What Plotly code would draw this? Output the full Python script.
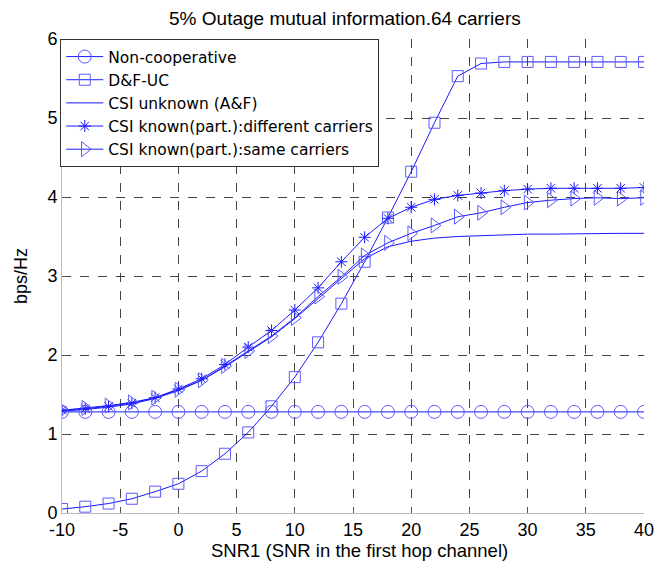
import plotly.graph_objects as go

snr = [-10, -8, -6, -4, -2, 0, 2, 4, 6, 8, 10, 12, 14, 16, 18, 20, 22, 24, 26, 28, 30, 32, 34, 36, 38, 40]

non_coop = [1.28] * 26
df_uc = [0.05, 0.08, 0.12, 0.18, 0.27, 0.37, 0.53, 0.75, 1.02, 1.35, 1.72, 2.16, 2.65, 3.18, 3.74, 4.32,
         4.94, 5.53, 5.69, 5.71, 5.71, 5.71, 5.71, 5.71, 5.71, 5.71]
csi_unknown = [1.29, 1.31, 1.34, 1.38, 1.45, 1.55, 1.68, 1.85, 2.04, 2.23, 2.46, 2.71, 2.96, 3.22, 3.37, 3.44,
               3.48, 3.50, 3.51, 3.52, 3.53, 3.53, 3.535, 3.54, 3.54, 3.54]
csi_diff = [1.30, 1.32, 1.35, 1.39, 1.46, 1.57, 1.70, 1.88, 2.10, 2.31, 2.57, 2.85, 3.18, 3.49, 3.73, 3.87,
            3.97, 4.02, 4.05, 4.08, 4.10, 4.11, 4.11, 4.11, 4.11, 4.12]
csi_same = [1.30, 1.33, 1.36, 1.40, 1.46, 1.56, 1.68, 1.86, 2.05, 2.24, 2.47, 2.74, 2.99, 3.26, 3.42, 3.54,
            3.64, 3.75, 3.80, 3.87, 3.93, 3.96, 3.98, 3.99, 3.98, 3.99]

names = ["Non-cooperative", "D&F-UC", "CSI unknown (A&F)",
         "CSI known(part.):different carriers", "CSI known(part.):same carriers"]

x_ticks = [-10, -5, 0, 5, 10, 15, 20, 25, 30, 35, 40]
x_tick_text = ["-10", "-5", "0", "5", "10", "15", "20", "25", "30", "35", "40"]
y_ticks = [0, 1, 2, 3, 4, 5, 6]

LINE = "#1a1aff"
MARK = "#5a5aff"
FONT = "Liberation Sans, Arial, sans-serif"
LEG_FONT = "DejaVu Sans, sans-serif"

fig = go.Figure()
fig.add_trace(go.Scatter(x=snr, y=non_coop, name=names[0], mode="lines+markers",
                         line=dict(color=LINE, width=1),
                         marker=dict(symbol="circle-open", size=13, color=MARK, line=dict(width=1, color=MARK))))
fig.add_trace(go.Scatter(x=snr, y=df_uc, name=names[1], mode="lines+markers",
                         line=dict(color=LINE, width=1),
                         marker=dict(symbol="square-open", size=11, color=MARK, line=dict(width=1, color=MARK))))
fig.add_trace(go.Scatter(x=snr, y=csi_unknown, name=names[2], mode="lines",
                         line=dict(color=LINE, width=1)))
fig.add_trace(go.Scatter(x=snr, y=csi_diff, name=names[3], mode="lines+markers",
                         line=dict(color=LINE, width=1),
                         marker=dict(symbol="asterisk-open", size=10, color=LINE, line=dict(width=1, color=LINE))))
fig.add_trace(go.Scatter(x=snr, y=csi_same, name=names[4], mode="lines+markers",
                         line=dict(color=LINE, width=1),
                         marker=dict(symbol="triangle-right-open", size=13, color=MARK, line=dict(width=1, color=MARK))))

axis_common = dict(showgrid=True, gridcolor="#444444", griddash="dash", gridwidth=1,
                   showline=True, linecolor="#bbbbbb", linewidth=1, mirror=False,
                   ticks="inside", ticklen=5, tickcolor="#555555", zeroline=False,
                   tickfont=dict(family=FONT, size=18, color="black"))

# page body has an 8px default margin; figure sized to fill the visible window
W, H = 658, 553
L, R, T, B = 43, 15, 31, 48
plot_h = H - T - B

fig.update_layout(
    width=W, height=H,
    margin=dict(l=L, r=R, t=T, b=B),
    paper_bgcolor="white", plot_bgcolor="white",
    title=dict(text="5% Outage mutual information.64 carriers", x=0.512, xanchor="center",
               y=1 - 10 / H, yanchor="middle", font=dict(family=FONT, size=19, color="black")),
    font=dict(family=FONT, color="black"),
    xaxis=dict(range=[-10, 40], tickvals=x_ticks, ticktext=x_tick_text, **axis_common),
    yaxis=dict(range=[0, 6], tickvals=y_ticks,
               title=dict(text="bps/Hz", font=dict(family=FONT, size=18), standoff=15),
               **axis_common),
    legend=dict(x=-0.003, y=1.0, xanchor="left", yanchor="top", bgcolor="white",
                bordercolor="#333333", borderwidth=1, font=dict(family=LEG_FONT, size=15.5, color="black"),
                tracegroupgap=0, itemwidth=37),
    annotations=[dict(text="SNR1 (SNR in the first hop channel)", xref="paper", yref="paper",
                      x=0.512, y=-37 / plot_h, xanchor="center", yanchor="middle", showarrow=False,
                      font=dict(family=FONT, size=18.5, color="black"))],
    showlegend=True,
)

fig.write_html("out.html")
